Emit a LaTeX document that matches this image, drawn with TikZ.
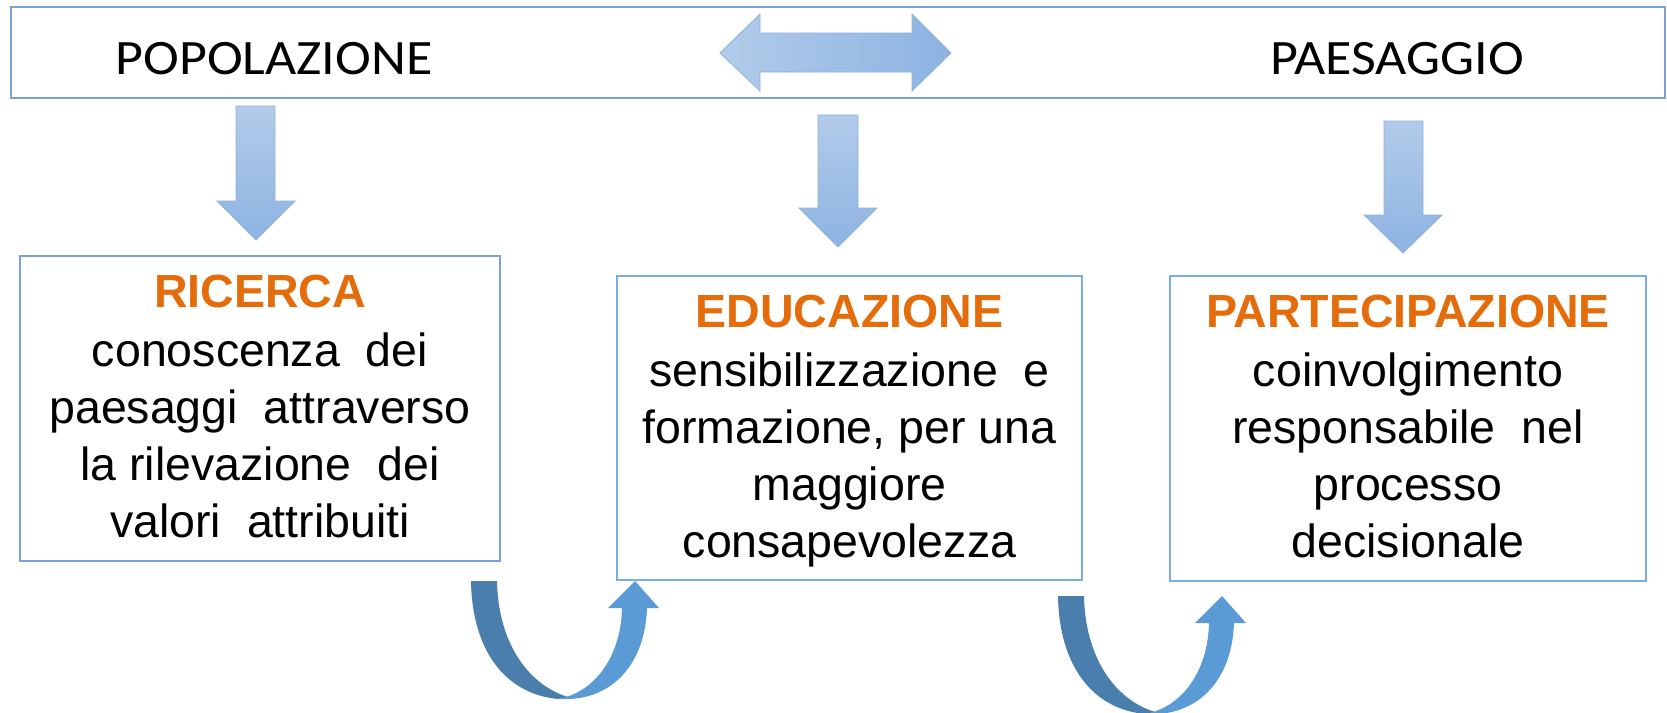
\documentclass[tikz,border=0pt]{standalone}
\usepackage{fontspec}
\setmainfont{Liberation Sans}
\newfontfamily\calibri[FakeStretch=1.09]{Carlito}
\definecolor{orng}{HTML}{E46C0A}
\definecolor{bordA}{HTML}{7C9ED9}
\definecolor{bordB}{HTML}{78AEE2}
\definecolor{arrTop}{HTML}{B2CBE9}
\definecolor{arrBot}{HTML}{8DB3E2}
\definecolor{arrEdge}{HTML}{8EB1DD}
\definecolor{curvDark}{HTML}{4A7EAD}
\definecolor{curvLight}{HTML}{5B9BD5}
\begin{document}
\begin{tikzpicture}[x=1pt,y=-1pt,
  boxA/.style={draw=bordA, line width=1.5pt, inner sep=0pt, outer sep=0pt},
  boxB/.style={draw=bordB, line width=1.5pt, inner sep=0pt, outer sep=0pt},
  dnarrow/.style={top color=arrTop, bottom color=arrBot, draw=arrEdge, line width=0.8pt},
  lrarrow/.style={left color=arrTop, right color=arrBot, draw=arrEdge, line width=0.8pt},
  toplabel/.style={font=\calibri\fontsize{49.5}{56}\selectfont, anchor=base, inner sep=0pt},
  body/.style={align=center, anchor=base, inner sep=0pt, font=\fontsize{46.5}{56.7}\selectfont},
  darkpart/.style={fill=curvDark},
  lightpart/.style={fill=curvLight}
]
\useasboundingbox (0,0) rectangle (1667,712);

% top bar
\node[boxA, minimum width=1654pt, minimum height=91pt] (topbar) at (838,52.5) {};
\node[toplabel] (pop) at (274,74) {POPOLAZIONE};
\node[toplabel] (pae) at (1397,74) {PAESAGGIO};

% double arrow
\shadedraw[lrarrow] (720,53) -- (760,14) -- (760,33) -- (912,33) -- (912,14) -- (951,53)
  -- (912,91) -- (912,72) -- (760,72) -- (760,91) -- cycle;

% down arrows
\shadedraw[dnarrow] (236,106) -- (275,106) -- (275,201) -- (295,201) -- (256,240) -- (217,201) -- (236,201) -- cycle;
\shadedraw[dnarrow] (818,115) -- (858,115) -- (858,208) -- (877,208) -- (838,247) -- (799,208) -- (818,208) -- cycle;
\shadedraw[dnarrow] (1384,121) -- (1423,121) -- (1423,215) -- (1442,215) -- (1403,253) -- (1364,215) -- (1384,215) -- cycle;

% boxes
\node[boxA, minimum width=480pt, minimum height=305pt] (ric) at (260,408.5) {};
\node[boxB, minimum width=465pt, minimum height=304pt] (edu) at (849.5,428) {};
\node[boxB, minimum width=476pt, minimum height=305pt] (par) at (1408,428.5) {};

\node[body] (ricT) at (260,537) {\textcolor{orng}{\textbf{RICERCA}}\\[2.3pt]
  conoscenza\ \ dei\\ paesaggi\ \ attraverso\\ la rilevazione\ \ dei\\ valori\ \ attribuiti};
\node[body] (eduT) at (849.5,557) {\textcolor{orng}{\textbf{EDUCAZIONE}}\\[2.3pt]
  sensibilizzazione\ \ e\\ formazione, per una\\ maggiore\\ consapevolezza};
\node[body] (parT) at (1408,557) {\textcolor{orng}{\textbf{PARTECIPAZIONE}}\\[2.3pt]
  coinvolgimento\\ responsabile\ \ nel\\ processo\\ decisionale};

% curved arrows
\foreach \dx/\dy in {0/0, 587/15} {
  \begin{scope}[shift={(\dx,\dy)}]
    \fill[darkpart] (471,581) .. controls (472,650) and (505,694) .. (558,699)
      -- (568,697) .. controls (526,684) and (498,640) .. (497,581) -- cycle;
    \fill[lightpart] (558,699) .. controls (596,692) and (621,655) .. (622,608)
      -- (608,608) -- (635,581) -- (659,608) -- (647,608)
      .. controls (645,665) and (612,697) .. (570,699) -- cycle;
  \end{scope}
}
\end{tikzpicture}
\end{document}
